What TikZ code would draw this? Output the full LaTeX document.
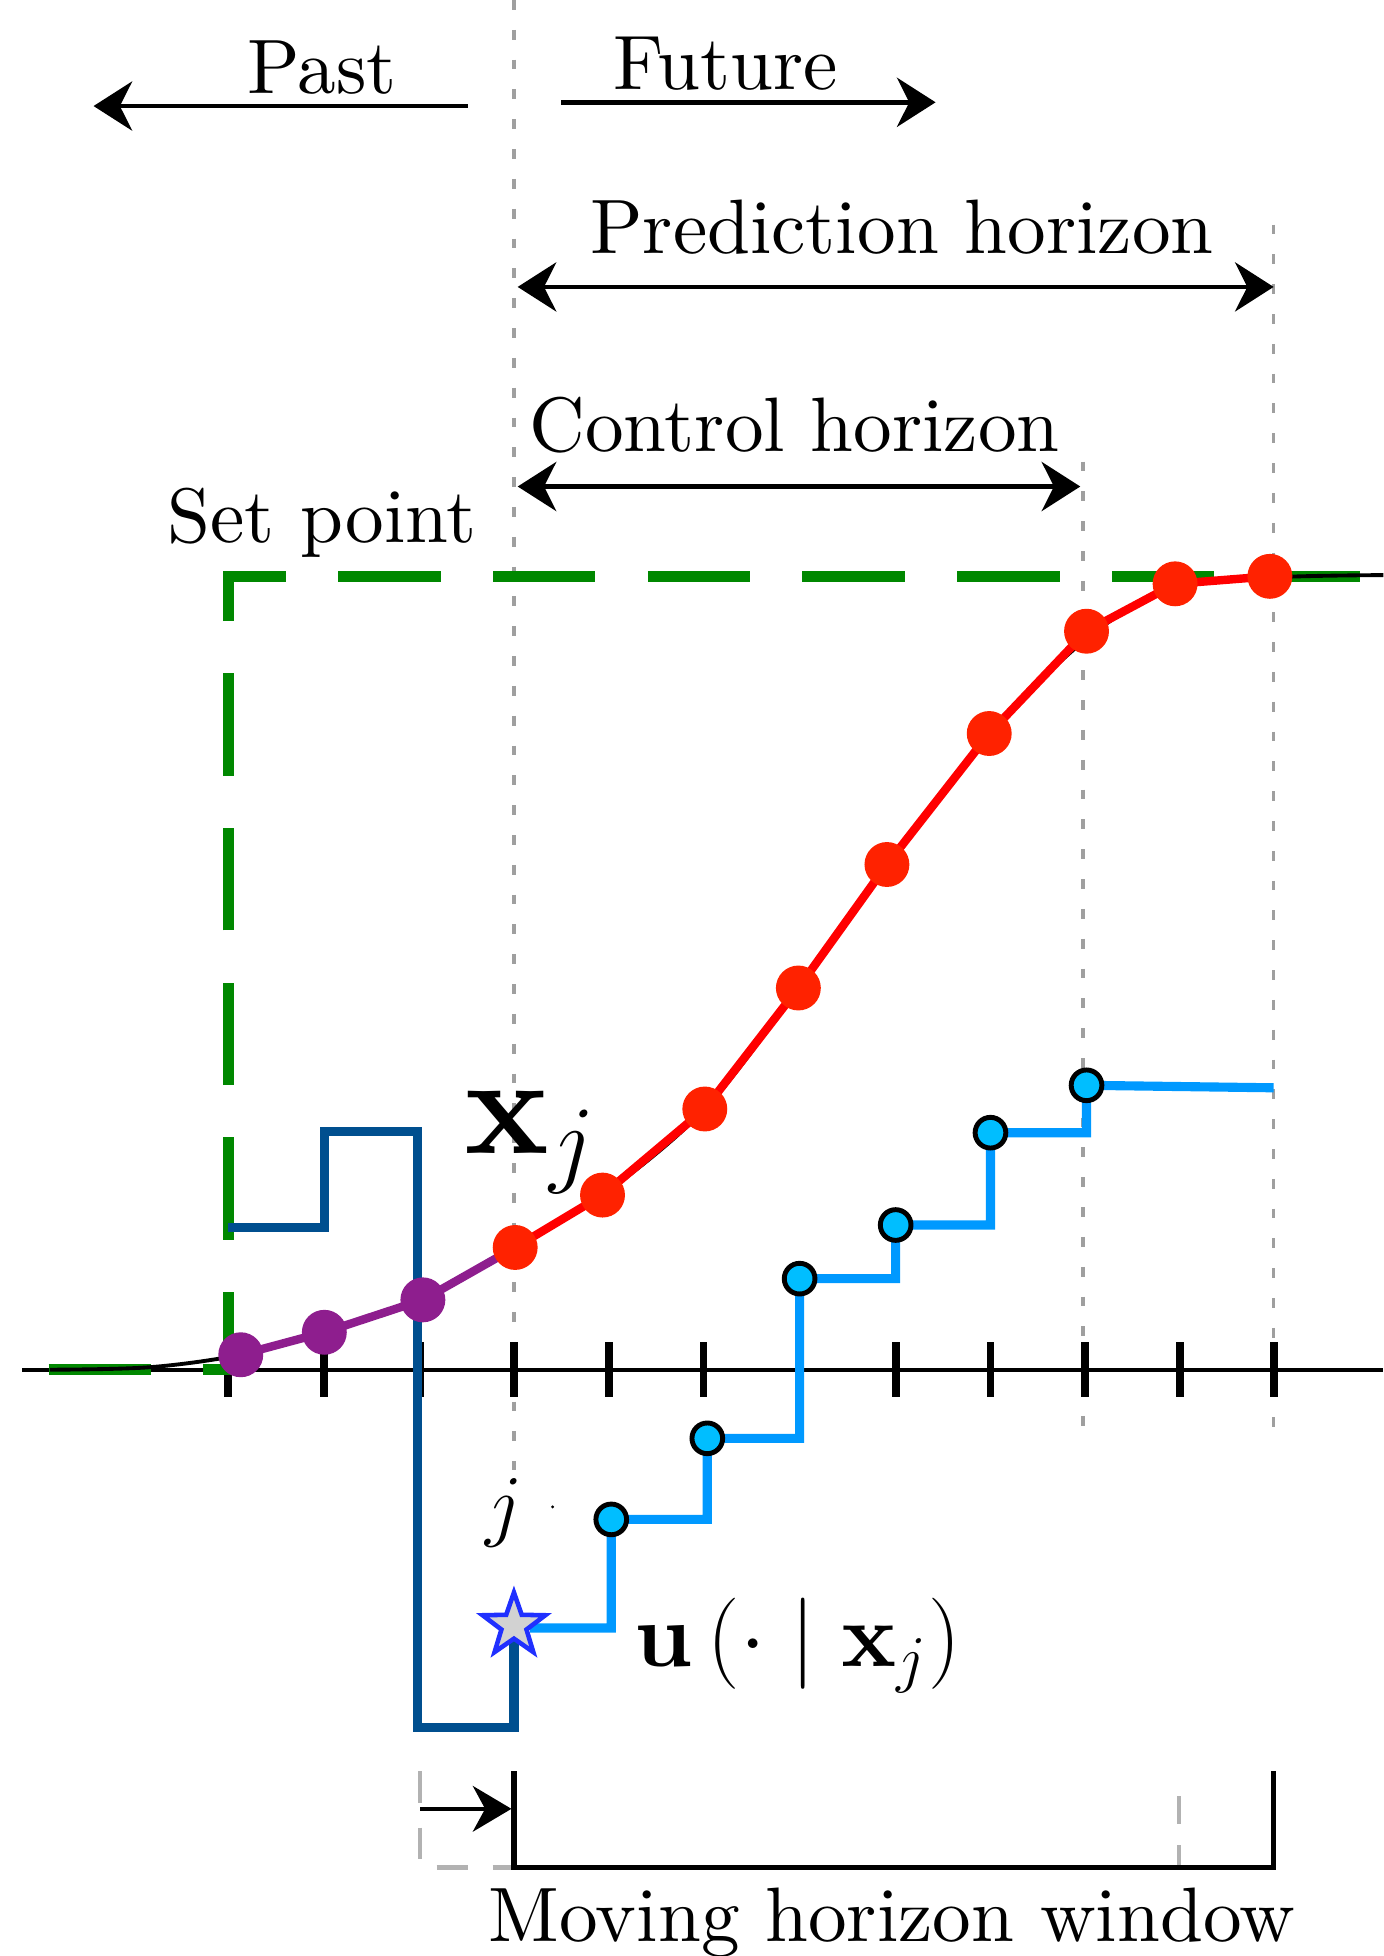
\RequirePackage{fix-cm}
\documentclass[tikz,border=0pt]{standalone}
\usepackage{fontspec}
\setmainfont{lmroman10}[Extension=.otf, UprightFont=*-regular, BoldFont=*-bold, ItalicFont=*-italic, BoldItalicFont=*-bolditalic]
\usetikzlibrary{arrows.meta,shapes.geometric}
\definecolor{spgreen}{RGB}{0,136,0}
\definecolor{dkblue}{RGB}{0,79,143}
\definecolor{ltblue}{RGB}{0,153,255}
\definecolor{cyandot}{RGB}{0,190,255}
\definecolor{purp}{RGB}{142,30,142}
\definecolor{reddot}{RGB}{255,34,0}
\definecolor{starblue}{RGB}{32,48,255}
\begin{document}
\begin{tikzpicture}[x=0.0125cm,y=-0.0125cm,
  lbl/.style={font=\fontsize{22}{26}\selectfont, inner sep=0pt},
  guide/.style={gray!75, line width=1pt, dash pattern=on 2.8pt off 5.7pt},
  tip/.tip={Stealth[length=11pt,width=14pt,inset=3.5pt]},
  arr/.style={line width=1.3pt, -tip},
  darr/.style={line width=1.3pt, tip-tip},
  ticks/.style={line width=2.2pt},
  reddots/.style={fill=reddot},
  purpdots/.style={fill=purp},
  cdot/.style={fill=cyandot, draw=black, line width=1.4pt},
  starnode/.style={star, star points=5, star point ratio=2.5, minimum size=0.66cm, inner sep=0pt,
      draw=starblue, fill=gray!35, line width=1.3pt}
]
\useasboundingbox (0,0) rectangle (1109,1568);

% guide lines
\coordinate (gLt) at (412,0);    \coordinate (gLb) at (412,1178);
\coordinate (gCt) at (868,370);  \coordinate (gCb) at (868,1145);
\coordinate (gPt) at (1021,180); \coordinate (gPb) at (1021,1145);
\draw[guide] (gLt) -- (gLb);
\draw[guide] (gCt) -- (gCb);
\draw[guide] (gPt) -- (gPb);

% top arrows and labels
\coordinate (pastS) at (375,85);  \coordinate (pastE) at (75,85);
\coordinate (futS) at (450,82);   \coordinate (futE) at (750,82);
\coordinate (predS) at (415,230); \coordinate (predE) at (1021,230);
\coordinate (ctrlS) at (415,390); \coordinate (ctrlE) at (866,390);
\draw[arr] (pastS) -- (pastE);
\draw[arr] (futS) -- (futE);
\draw[darr] (predS) -- (predE);
\draw[darr] (ctrlS) -- (ctrlE);
\node[lbl, anchor=base] (past) at (258,75) {Past};
\node[lbl, anchor=base] (future) at (582,72) {Future};
\node[lbl, anchor=base] (pred) at (723,203) {Prediction horizon};
\node[lbl, anchor=base] (ctrl) at (637,362) {Control horizon};
\node[lbl, anchor=base] (setp) at (258,435) {Set point};

% axis
\coordinate (axL) at (18,1098); \coordinate (axR) at (1109,1098);
\draw[line width=1.25pt] (axL) -- (axR);
\foreach \x in {183,260,337,412,488,564,641,718,794,870,946,1021}
  \draw[ticks] (\x,1076) -- (\x,1120);

% set point (green dashed)
\coordinate (sp0) at (39,1098);
\coordinate (sp1) at (183,1098);
\coordinate (sp2) at (183,462);
\coordinate (sp3) at (1090,462);
\draw[spgreen, line width=3pt, dash pattern=on 29.2pt off 14.9pt] (sp0) -- (sp1) -- (sp2) -- (sp3);

% trajectory points
\coordinate (p1) at (193,1086);
\coordinate (p2) at (260,1068);
\coordinate (p3) at (339,1042);
\coordinate (r1) at (413,1000);
\coordinate (r2) at (483,958);
\coordinate (r3) at (565,889);
\coordinate (r4) at (640,792);
\coordinate (r5) at (711,693);
\coordinate (r6) at (793,588);
\coordinate (r7) at (871,506);
\coordinate (r8) at (942,468);
\coordinate (r9) at (1018,462);

% black underlying curve
\draw[line width=1.1pt] plot[smooth, tension=0.55] coordinates {(40,1098) (120,1096) (193,1086) (260,1068) (339,1042) (413,1000) (483,958) (565,889) (640,792) (711,693) (793,588) (876,508) (942,472) (1018,463) (1109,461)};

% past control (dark blue)
\coordinate (b0) at (183,984);
\coordinate (b1) at (260,984);
\coordinate (b2) at (260,907);
\coordinate (b3) at (335,907);
\coordinate (b4) at (335,1385);
\coordinate (b5) at (412,1385);
\coordinate (b6) at (412,1305);
\draw[dkblue, line width=2.6pt, line join=miter] (b0) -- (b1) -- (b2) -- (b3) -- (b4) -- (b5) -- (b6);

% purple and red lines
\draw[purp, line width=2.4pt] (p1) -- (p2) -- (p3) -- (r1);
\draw[red, line width=2.4pt] (r1) -- (r2) -- (r3) -- (r4) -- (r5) -- (r6) -- (r7) -- (r8) -- (r9);
\foreach \n in {p1,p2,p3} \fill[purpdots] (\n) circle[radius=18];
\foreach \n in {r1,r2,r3,r4,r5,r6,r7,r8,r9} \fill[reddots] (\n) circle[radius=18];

% future control (light blue)
\coordinate (c1) at (490,1218);
\coordinate (c2) at (567,1153);
\coordinate (c3) at (641,1025);
\coordinate (c4) at (718,982);
\coordinate (c5) at (794,908);
\coordinate (c6) at (871,870);
\coordinate (cend) at (1021,872);
\coordinate (s0) at (425,1305);
\draw[ltblue, line width=2.6pt, line join=miter]
  (s0) -- (490,1305) -- (c1) -- (567,1218) -- (c2) -- (641,1153) -- (c3)
  -- (718,1025) -- (c4) -- (794,982) -- (c5) -- (871,908) -- (c6) -- (cend);
\node[starnode] (st) at (412,1303) {};
\foreach \n in {c1,c2,c3,c4,c5,c6} \filldraw[cdot] (\n) circle[radius=12.3];

% math labels
\node[inner sep=0pt, anchor=base west, font=\fontsize{40}{44}\selectfont] (xj) at (372,925) {$\mathbf{x}_j$};
\node[inner sep=0pt, anchor=base, font=\fontsize{23}{26}\selectfont] (jl) at (404,1228) {$j$};
\fill[black] (443,1208) circle[radius=1.3];
\node[inner sep=0pt, anchor=base west, font=\fontsize{26}{30}\selectfont] (ul) at (508,1336) {$\mathbf{u}\left(\cdot \mid \mathbf{x}_j\right)$};

% moving horizon window
\coordinate (w1) at (412,1420);
\coordinate (w2) at (412,1497);
\coordinate (w3) at (1021,1497);
\coordinate (w4) at (1021,1420);
\coordinate (o1) at (337,1420);
\coordinate (o2) at (337,1497);
\coordinate (m1) at (945,1440);
\coordinate (m2) at (945,1497);
\draw[gray!60, line width=1.2pt, dash pattern=on 9pt off 7pt] (o1) -- (o2) -- (w2);
\draw[gray!60, line width=1.1pt, dash pattern=on 8pt off 6pt] (m1) -- (m2);
\draw[line width=1.5pt] (w1) -- (w2) -- (w3) -- (w4);
\coordinate (ms) at (337,1450); \coordinate (me) at (410,1450);
\draw[line width=1.3pt, -{Stealth[length=11pt,width=13pt,inset=3.5pt]}] (ms) -- (me);
\node[lbl, anchor=base] (mhw) at (715,1556) {Moving horizon window};
\end{tikzpicture}
\end{document}
